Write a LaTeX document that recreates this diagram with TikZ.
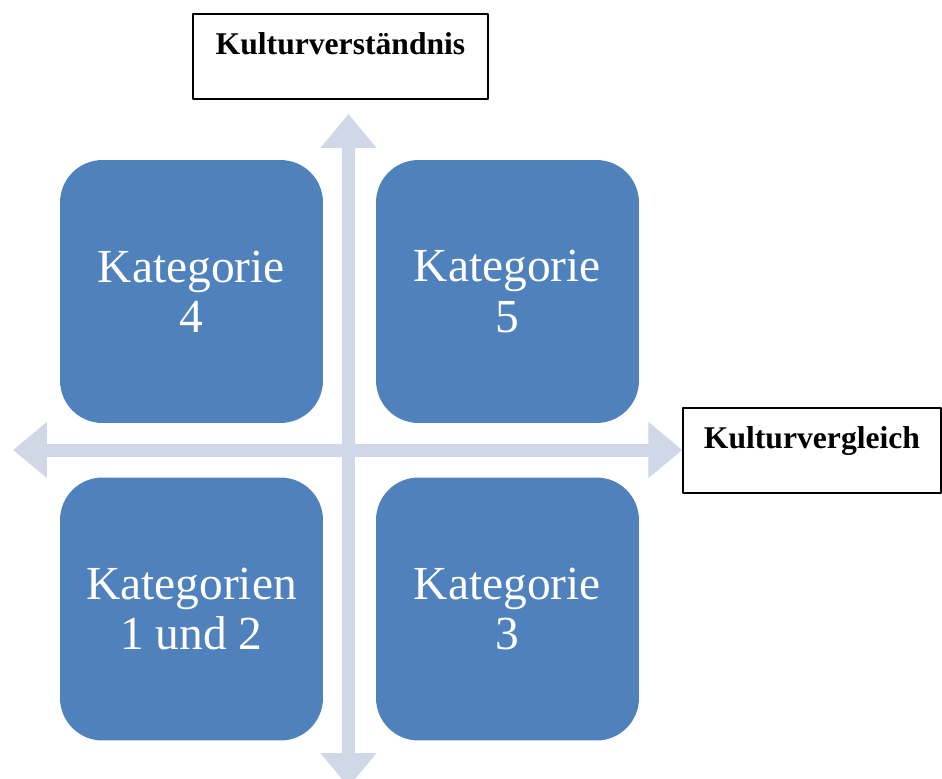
\documentclass[tikz,border=0pt]{standalone}
\usepackage{fontspec}
\setmainfont{Liberation Serif}
\usetikzlibrary{arrows.meta}
\definecolor{katblue}{HTML}{4F81BD}
\definecolor{axisgray}{HTML}{D0D8E8}
\begin{document}
\begin{tikzpicture}[x=0.02cm, y=-0.02cm, line join=round,
    katbox/.style={fill=katblue, draw=none, rounded corners=0.85cm, minimum width=5.26cm, minimum height=5.26cm,
      text=white, align=center, font=\fontsize{27}{28.5}\selectfont},
    labelbox/.style={draw=black, line width=0.8pt, fill=white},
    labeltext/.style={anchor=base, font=\fontsize{18}{20}\selectfont\bfseries},
    axisarrow/.style={draw=axisgray, line width=0.26cm,
      {Triangle[width=1.08cm,length=0.68cm]}-{Triangle[width=1.08cm,length=0.68cm]}}]
  \clip (0,0) rectangle (942,778);
  \useasboundingbox (0,0) rectangle (942,778);
  % kategorien
  \foreach \cx/\cy/\nm/\txt in {191.5/291.5/kat4/{Kategorie\\4}, 507.5/291.5/kat5/{Kategorie\\5},
      191.5/609/kat12/{Kategorien\\1 und 2}, 507.5/609/kat3/{Kategorie\\3}}
    \node[katbox] (\nm) at (\cx,\cy) {\txt};
  % beschriftungen
  \node[labelbox, minimum width=5.9cm, minimum height=1.7cm] (kvst) at (340.5,56.5) {};
  \node[labeltext] (kvsttxt) at ([yshift=-0.82cm]kvst.north) {Kulturverständnis};
  \node[labelbox, minimum width=5.16cm, minimum height=1.7cm] (kvgl) at (812,450.5) {};
  \node[labeltext] (kvgltxt) at ([yshift=-0.82cm]kvgl.north) {Kulturvergleich};
  % achsen
  \coordinate (vtop) at (348.5,114);
  \coordinate (vbot) at (348.5,787);
  \coordinate (hleft) at (13,450);
  \draw[axisarrow] (vbot) -- (vtop);
  \draw[axisarrow] (hleft) -- (kvgl.west |- hleft);
\end{tikzpicture}
\end{document}
